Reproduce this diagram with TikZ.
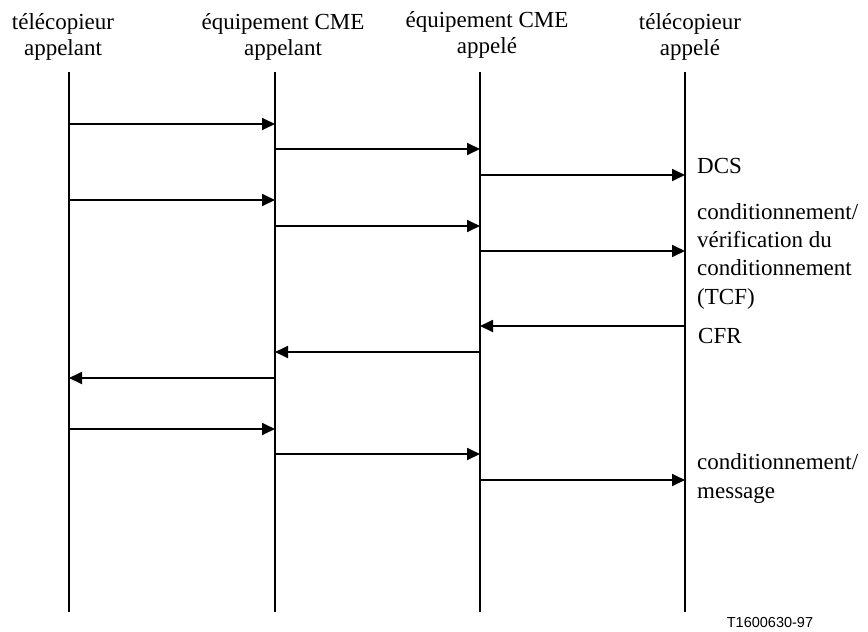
\documentclass[tikz,border=0pt]{standalone}
\usepackage{fontspec}
\setmainfont{Liberation Serif}
\newfontfamily\refsans{Liberation Sans}
\usetikzlibrary{arrows.meta}
\usetikzlibrary{positioning}

\begin{document}
\begin{tikzpicture}
		[x=1pt,y=-1pt,every node/.style={inner sep=0pt},
		hdr/.style={anchor=base,align=center,font=\fontsize{23}{26}\selectfont},
		lbl/.style={anchor=base west,align=left,font=\fontsize{23}{28.3}\selectfont},
		lifeline/.style={line width=1.8pt},
		msg/.style={line width=1.8pt,-{Triangle[length=13pt,width=12pt]}}]
		\useasboundingbox (0,0) rectangle (868,632);
		% stations
		\node[hdr] (h1) at (63,55) {télécopieur\\appelant};
		\node[hdr] (h2) at (283,55) {équipement CME\\appelant};
		\node[hdr] (h3) at (487,53) {équipement CME\\appelé};
		\node[hdr] (h4) at (690,55) {télécopieur\\appelé};
		
		\foreach \x [count=\i] in {69,275,480,685} {
			\coordinate (t\i) at (\x,72);
			\coordinate (b\i) at (\x,612);
			\foreach \y [count=\j] in {124,149,175,200,226,251,326,352,378,429,454,480}
			\coordinate (p\i-\j) at (\x,\y);
		}
		\foreach \i in {1,...,4}
		\draw[lifeline] (t\i) -- (b\i);
		
		% messages
		\foreach \from/\to in 
		{p1-1/p2-1, p2-2/p3-2, p3-3/p4-3, p1-4/p2-4, p2-5/p3-5, p3-6/p4-6,
		 p4-7/p3-7, p3-8/p2-8, p2-9/p1-9, p1-10/p2-10, p2-11/p3-11, p3-12/p4-12}
		\draw[msg] (\from) -- (\to);
		
		\node[lbl] (dcs) at (697,173) {DCS};
		\node[lbl] (tcf) at (697,304) {conditionnement/\\vérification du\\conditionnement\\(TCF)};
		\node[lbl] (cfr) at (698,343) {CFR};
		\node[lbl] (mess) at (697,498) {conditionnement/\\message};
		\node[font=\refsans\fontsize{14.5}{17}\selectfont] (ref) at (770,623) {T1600630-97};
\end{tikzpicture}
\end{document}
